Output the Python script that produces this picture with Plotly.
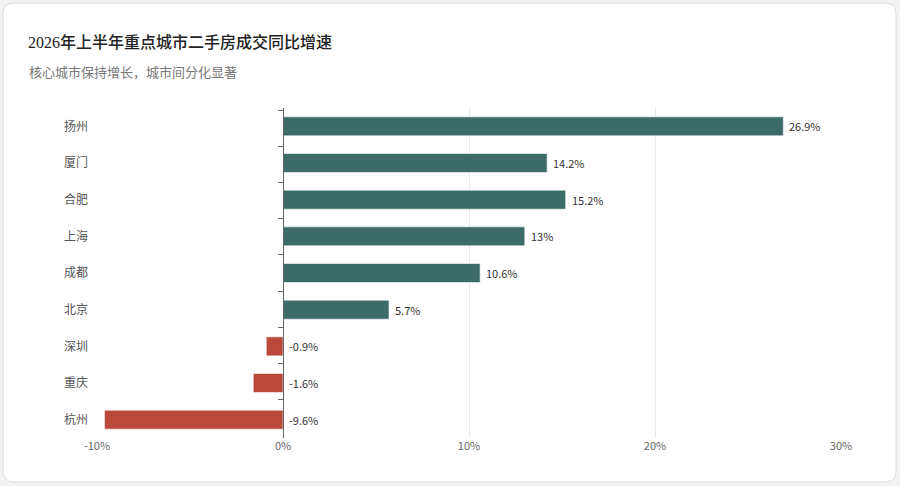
import plotly.graph_objects as go

cities = ["扬州", "厦门", "合肥", "上海", "成都", "北京", "深圳", "重庆", "杭州"]
growth = [26.9, 14.2, 15.2, 13, 10.6, 5.7, -0.9, -1.6, -9.6]
x_ticks = [-10, 0, 10, 20, 30]
x_tick_text = ["-10%", "0%", "10%", "20%", "30%"]

POS = "#3d6b68"
NEG = "#b8493b"
bar_colors = [POS if v >= 0 else NEG for v in growth]
labels = [f"{v:g}%" for v in growth]
label_x = [max(v, 0) for v in growth]

W, H = 900, 486
L, R, T, B = 97, 59, 108, 48
pw, ph = W - L - R, H - T - B


def px(x):
    return (x - L) / pw


def py(y):
    return (H - B - y) / ph


fig = go.Figure()
fig.add_trace(go.Bar(
    y=cities, x=growth, orientation="h",
    marker=dict(color=bar_colors, line=dict(color="rgba(255,255,255,0.6)", width=1)),
    hoverinfo="skip", showlegend=False,
))
# invisible trace so the axis drawn through zero has its categories
fig.add_trace(go.Scatter(
    y=cities, x=label_x, yaxis="y2", mode="markers",
    marker=dict(opacity=0), hoverinfo="skip", showlegend=False,
))

value_notes = [
    dict(x=lx, y=c, text=t, xref="x", yref="y", xanchor="left", yanchor="middle",
         xshift=4, showarrow=False, font=dict(size=11, color="#333333"))
    for lx, c, t in zip(label_x, cities, labels)
]

# card background with rounded corners
x0, x1, y0, y1 = px(3), px(896), py(482), py(3)
rx, ry = 11 / pw, 11 / ph
card = (f"M {x0+rx},{y1} L {x1-rx},{y1} Q {x1},{y1} {x1},{y1-ry} "
        f"L {x1},{y0+ry} Q {x1},{y0} {x1-rx},{y0} "
        f"L {x0+rx},{y0} Q {x0},{y0} {x0},{y0+ry} "
        f"L {x0},{y1-ry} Q {x0},{y1} {x0+rx},{y1} Z")

fig.update_layout(
    width=W, height=H,
    margin=dict(l=L, r=R, t=T, b=B, autoexpand=False),
    paper_bgcolor="#f3f3f3",
    plot_bgcolor="rgba(0,0,0,0)",
    font=dict(family="Noto Sans CJK SC, sans-serif", color="#666666"),
    bargap=0.48,
    title=dict(
        text="2026年上半年重点城市二手房成交同比增速",
        xref="container", yref="container", x=28 / W, y=1 - 42 / H,
        xanchor="left", yanchor="middle",
        font=dict(family="'Liberation Serif', 'Noto Sans CJK SC', serif", size=16,
                  color="#222222", weight=500),
    ),
    annotations=[dict(
        text="核心城市保持增长，城市间分化显著",
        xref="paper", yref="paper", x=px(27), y=py(72),
        xanchor="left", yanchor="middle", showarrow=False,
        font=dict(size=13, color="#777777"),
    )] + value_notes,
    shapes=[dict(type="path", path=card, xref="paper", yref="paper",
                 fillcolor="#ffffff", line=dict(color="#dcdcdc", width=1),
                 layer="below")],
    xaxis=dict(
        range=[-10, 30], tickvals=x_ticks, ticktext=x_tick_text,
        showgrid=True, gridcolor="#e8e8e8", gridwidth=1,
        zeroline=False, showline=False, ticks="",
        tickfont=dict(size=11, color="#666666"),
        automargin=False, fixedrange=True,
    ),
    yaxis=dict(
        categoryorder="array", categoryarray=cities, autorange="reversed",
        showgrid=False, showline=False, ticks="", zeroline=False,
        tickfont=dict(size=12, color="#555555"),
        ticklabelstandoff=8, automargin=False,
    ),
    yaxis2=dict(
        overlaying="y", anchor="free", position=px(L + pw * 10 / 40),
        categoryorder="array", categoryarray=cities, autorange="reversed",
        showline=True, linecolor="#666666", linewidth=1,
        ticks="outside", tickson="boundaries", ticklen=5, tickcolor="#666666",
        showticklabels=False, showgrid=False, zeroline=False, automargin=False,
    ),
)

fig.write_html("out.html", config={"displayModeBar": False},
               post_script="document.body.style.margin='0';")
